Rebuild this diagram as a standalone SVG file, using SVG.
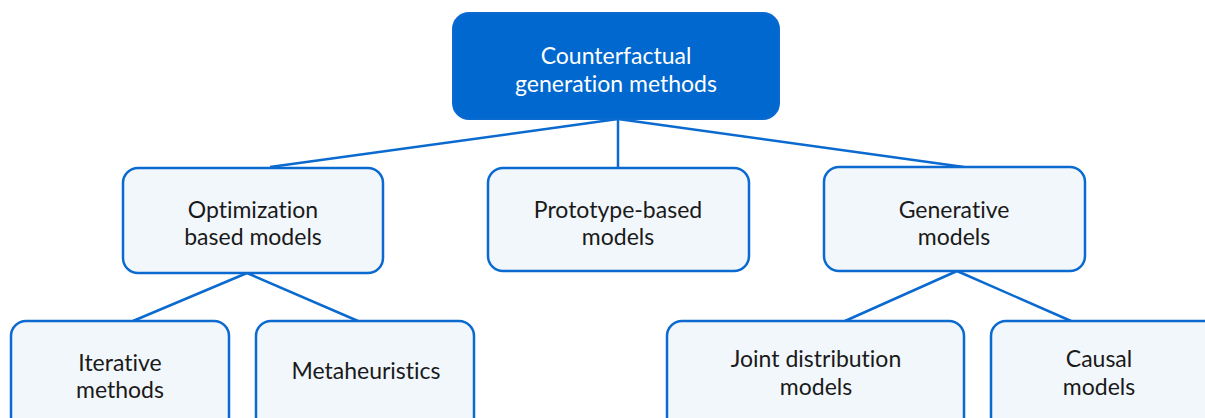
<svg xmlns="http://www.w3.org/2000/svg" width="1205" height="418" viewBox="0 0 1205 418">
<style>
.box{fill:#F2F7FC;stroke:#0A6ACF;stroke-width:2.5}
.root{fill:#0068CE;stroke:#0A6ACF;stroke-width:2}
.t{font-family:Lato,"Noto Sans",sans-serif;font-size:23px;fill:#1a1a1a;text-anchor:middle;font-variant-ligatures:none;font-feature-settings:"liga" 0}
.tw{fill:#ffffff}
.c{stroke:#0A6ACF;stroke-width:2.5;fill:none}
</style>
<g id="connectors">
<path class="c" d="M618,119 L270,167 M618,119 L618,168 M618,119 L964,167"/>
<path class="c" d="M247,273 L133,321 M247,273 L358,321"/>
<path class="c" d="M957,271 L845,321 M957,271 L1071,321"/>
</g>
<g id="root">
<rect class="root" x="453" y="13" width="326" height="106" rx="16"/>
<text class="t tw" x="616" y="64">Counterfactual</text>
<text class="t tw" x="616" y="92">generation methods</text>
</g>
<g id="optimization">
<rect class="box" x="123" y="168" width="260" height="105" rx="15"/>
<text class="t" x="253" y="218">Optimization</text>
<text class="t" x="253" y="245">based models</text>
</g>
<g id="prototype">
<rect class="box" x="488" y="168" width="261" height="103" rx="15"/>
<text class="t" x="618" y="218">Prototype-based</text>
<text class="t" x="618" y="245">models</text>
</g>
<g id="generative">
<rect class="box" x="824" y="167" width="261" height="104" rx="15"/>
<text class="t" x="954" y="218">Generative</text>
<text class="t" x="954" y="245">models</text>
</g>
<g id="iterative">
<rect class="box" x="11" y="321" width="218" height="120" rx="15"/>
<text class="t" x="120" y="371">Iterative</text>
<text class="t" x="120" y="398">methods</text>
</g>
<g id="metaheuristics">
<rect class="box" x="256" y="321" width="218" height="120" rx="15"/>
<text class="t" x="366" y="379">Metaheuristics</text>
</g>
<g id="joint">
<rect class="box" x="667" y="321" width="297" height="120" rx="15"/>
<text class="t" x="816" y="367">Joint distribution</text>
<text class="t" x="816" y="395">models</text>
</g>
<g id="causal">
<rect class="box" x="991" y="321" width="240" height="120" rx="15"/>
<text class="t" x="1099" y="367">Causal</text>
<text class="t" x="1099" y="395">models</text>
</g>
</svg>
